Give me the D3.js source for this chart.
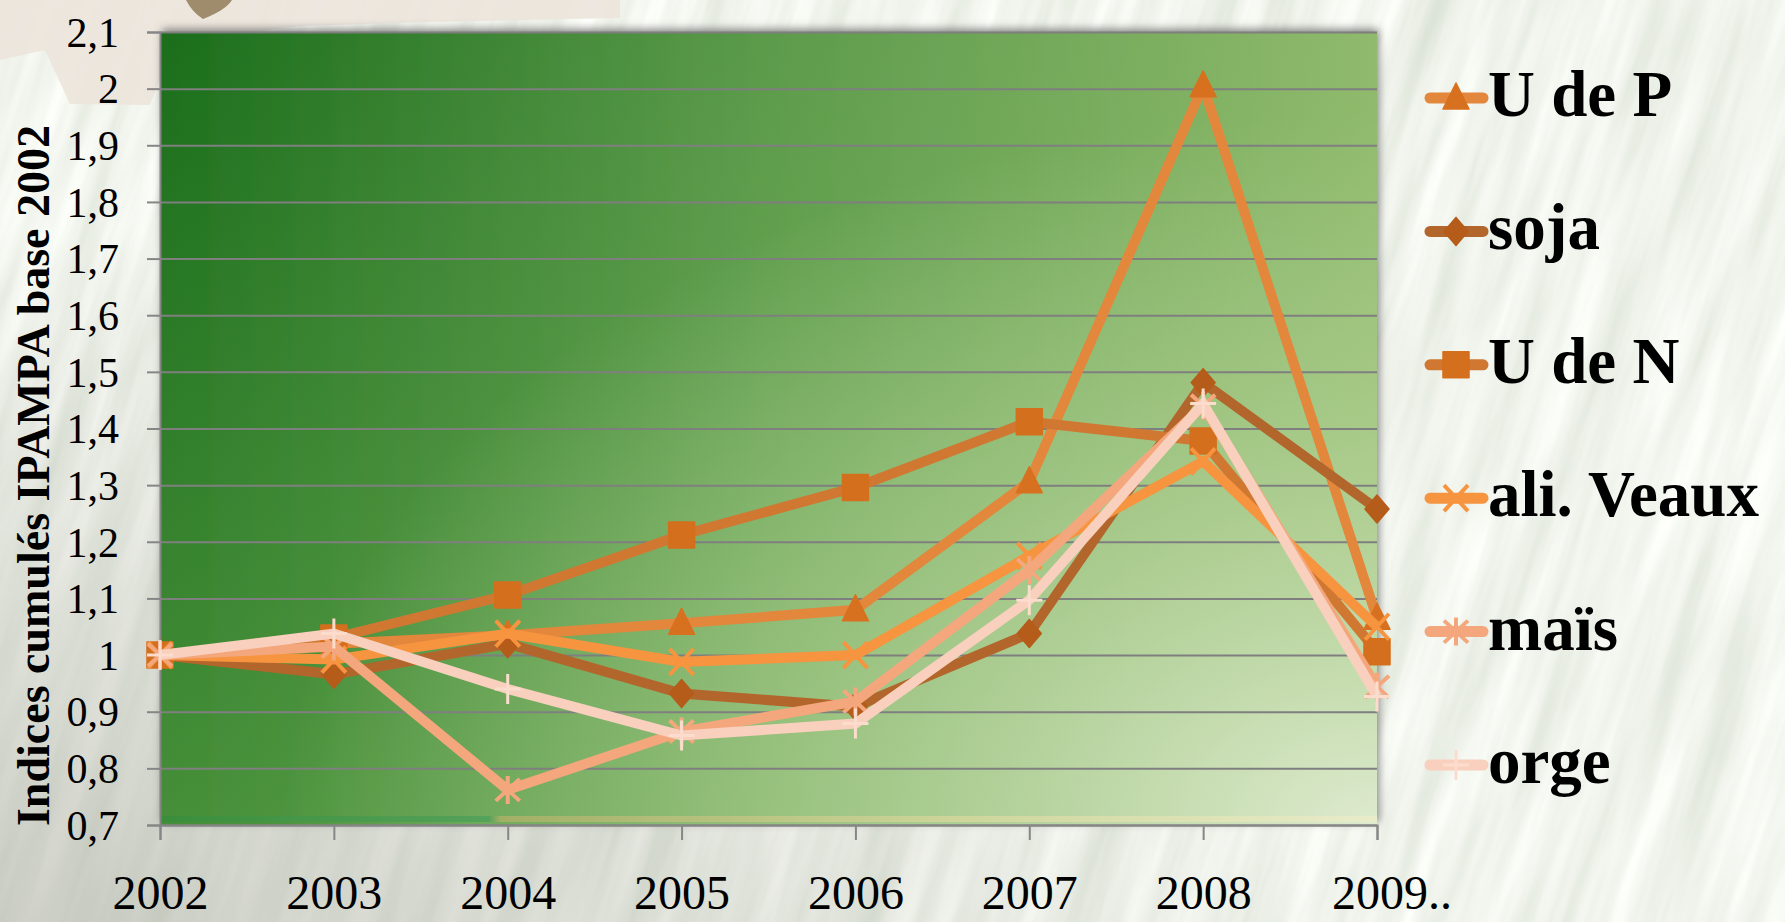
<!DOCTYPE html>
<html>
<head>
<meta charset="utf-8">
<script src="https://cdn.jsdelivr.net/npm/d3@7"></script>
<style>
  html, body { margin: 0; padding: 0; background: #e2eadb; overflow: hidden; }
  svg { display: block; }
</style>
</head>
<body>
<div id="chart"></div>
<script>
// data
const years = ['2002', '2003', '2004', '2005', '2006', '2007', '2008', '2009..'];
const seriesNames = ['U de P', 'soja', 'U de N', 'ali. Veaux', 'maïs', 'orge'];
const uDeP = [1.0, 1.02, 1.035, 1.056, 1.08, 1.306, 2.005, 1.065];
const soja = [1.0, 0.966, 1.02, 0.932, 0.909, 1.038, 1.481, 1.258];
const uDeN = [1.0, 1.03, 1.106, 1.212, 1.296, 1.412, 1.378, 1.006];
const aliVeaux = [1.0, 0.992, 1.038, 0.988, 1.0, 1.175, 1.342, 1.05];
const mais = [1.0, 1.015, 0.762, 0.865, 0.918, 1.15, 1.44, 0.944];
const orge = [1.0, 1.038, 0.94, 0.858, 0.879, 1.097, 1.444, 0.927];
const yTickValues = [0.7, 0.8, 0.9, 1, 1.1, 1.2, 1.3, 1.4, 1.5, 1.6, 1.7, 1.8, 1.9, 2, 2.1];
const yTitle = 'Indices cumulés IPAMPA base 2002';

const seriesValues = [uDeP, soja, uDeN, aliVeaux, mais, orge];
const lineColors = ['#e2873c', '#b3662c', '#d07832', '#f6943f', '#f4a77c', '#f8d0bd'];
const markerColors = ['#d8711f', '#b65c1a', '#d46f1e', '#f6943f', '#f4a77c', '#fbdccd'];
const markerTypes = ['triangle', 'diamond', 'square', 'x', 'asterisk', 'plus'];

const width = 1785, height = 922;
const margin = { top: 32, right: 408, bottom: 97, left: 160 };
const plotW = width - margin.left - margin.right;
const plotH = height - margin.top - margin.bottom;
const font = '"Liberation Serif", "Times New Roman", serif';

const svg = d3.select('#chart').append('svg')
  .attr('width', width)
  .attr('height', height);

const defs = svg.append('defs');

// grass-like texture for the page background
const grass = defs.append('filter').attr('id', 'grass')
  .attr('x', 0).attr('y', 0).attr('width', 1).attr('height', 1);
grass.append('feTurbulence')
  .attr('type', 'fractalNoise')
  .attr('baseFrequency', '0.035 0.003')
  .attr('numOctaves', 4)
  .attr('seed', 7);
grass.append('feColorMatrix')
  .attr('type', 'matrix')
  .attr('values', '0.38 0 0 0 0.69  0.32 0 0 0 0.75  0.38 0 0 0 0.66  0 0 0 0 1');

const dimGrad = defs.append('radialGradient').attr('id', 'dimGrad')
  .attr('cx', 0).attr('cy', 1).attr('r', 0.75);
dimGrad.append('stop').attr('offset', 0).attr('stop-color', '#a9ab9f').attr('stop-opacity', 0.55);
dimGrad.append('stop').attr('offset', 1).attr('stop-color', '#a9ab9f').attr('stop-opacity', 0);

const plotBase = defs.append('linearGradient').attr('id', 'plotBase')
  .attr('x1', 0).attr('y1', 0).attr('x2', 1).attr('y2', 0);
plotBase.append('stop').attr('offset', 0).attr('stop-color', '#1a6d1b');
plotBase.append('stop').attr('offset', 0.5).attr('stop-color', '#5c9b4b');
plotBase.append('stop').attr('offset', 1).attr('stop-color', '#90ba6d');

const plotFade = defs.append('linearGradient').attr('id', 'plotFade')
  .attr('x1', 0).attr('y1', 0).attr('x2', 0).attr('y2', 1);
plotFade.append('stop').attr('offset', 0).attr('stop-color', '#8cc46a').attr('stop-opacity', 0);
plotFade.append('stop').attr('offset', 1).attr('stop-color', '#8cc46a').attr('stop-opacity', 0.38);

const plotGlow = defs.append('radialGradient').attr('id', 'plotGlow')
  .attr('cx', 1).attr('cy', 1).attr('r', 0.9);
plotGlow.append('stop').attr('offset', 0).attr('stop-color', '#e2edd4').attr('stop-opacity', 0.95);
plotGlow.append('stop').attr('offset', 0.55).attr('stop-color', '#c2d9a6').attr('stop-opacity', 0.5);
plotGlow.append('stop').attr('offset', 1).attr('stop-color', '#c2d9a6').attr('stop-opacity', 0);

const floorGrad = defs.append('linearGradient').attr('id', 'floorGrad');
floorGrad.append('stop').attr('offset', 0).attr('stop-color', '#3a8e3a');
floorGrad.append('stop').attr('offset', 0.27).attr('stop-color', '#55a25a');
floorGrad.append('stop').attr('offset', 0.28).attr('stop-color', '#a2b066');
floorGrad.append('stop').attr('offset', 0.65).attr('stop-color', '#cdd59a');
floorGrad.append('stop').attr('offset', 1).attr('stop-color', '#e9ecca');

const shadow = defs.append('filter').attr('id', 'shadow')
  .attr('x', -0.05).attr('y', -0.05).attr('width', 1.1).attr('height', 1.1);
shadow.append('feDropShadow')
  .attr('dx', 2).attr('dy', -3).attr('stdDeviation', 4)
  .attr('flood-color', '#555').attr('flood-opacity', 0.7);

// page background
svg.append('g')
  .attr('transform', `rotate(18 ${width / 2} ${height / 2})`)
  .append('rect')
  .attr('x', -500).attr('y', -600)
  .attr('width', width + 1000).attr('height', height + 1200)
  .attr('filter', 'url(#grass)');
svg.append('rect')
  .attr('width', width).attr('height', height)
  .attr('fill', 'url(#dimGrad)');

svg.append('path')
  .attr('d', 'M0 0 H620 V18 L430 22 L300 26 L175 40 L150 105 L70 104 L45 50 L0 60 Z')
  .attr('fill', '#ece4dc')
  .attr('opacity', 0.9);
svg.append('path')
  .attr('d', 'M186 0 H232 Q226 10 203 19 Q192 12 186 0 Z')
  .attr('fill', '#9f8c6d');

const x = d3.scalePoint()
  .domain(years)
  .range([margin.left, margin.left + plotW]);

const y = d3.scaleLinear()
  .domain([yTickValues[0], yTickValues[yTickValues.length - 1]])
  .range([margin.top + plotH, margin.top]);

const locale = d3.formatLocale({ decimal: ',', thousands: ' ', grouping: [3], currency: ['', ''] });
const fmt = locale.format('~g');

// plot area
svg.append('rect')
  .attr('x', margin.left).attr('y', margin.top)
  .attr('width', plotW).attr('height', plotH)
  .attr('fill', 'url(#plotBase)')
  .attr('filter', 'url(#shadow)');
svg.append('rect')
  .attr('x', margin.left).attr('y', margin.top)
  .attr('width', plotW).attr('height', plotH)
  .attr('fill', 'url(#plotFade)');
svg.append('rect')
  .attr('x', margin.left).attr('y', margin.top)
  .attr('width', plotW).attr('height', plotH)
  .attr('fill', 'url(#plotGlow)');
svg.append('rect')
  .attr('x', margin.left).attr('y', y(0.7) - 9)
  .attr('width', plotW).attr('height', 6)
  .attr('fill', 'url(#floorGrad)');

// grid
svg.append('g')
  .attr('transform', `translate(${margin.left},0)`)
  .call(d3.axisRight(y).tickValues(yTickValues).tickSize(plotW).tickFormat(''))
  .call(g => g.select('.domain').remove())
  .call(g => g.selectAll('.tick line').attr('stroke', '#7f7f7f').attr('stroke-width', 2));

// y axis
svg.append('g')
  .attr('transform', `translate(${margin.left},0)`)
  .call(d3.axisLeft(y).tickValues(yTickValues).tickSize(13).tickPadding(28).tickFormat(fmt))
  .call(g => g.select('.domain').attr('stroke', '#868686').attr('stroke-width', 2))
  .call(g => g.selectAll('.tick line').attr('stroke', '#868686').attr('stroke-width', 2))
  .call(g => g.selectAll('.tick text')
    .attr('fill', '#000')
    .style('font-family', font)
    .style('font-size', '42px')
    .attr('dy', '0.34em'));

// x axis
svg.append('g')
  .attr('transform', `translate(0,${margin.top + plotH})`)
  .call(d3.axisBottom(x).tickSize(15).tickPadding(35))
  .call(g => g.select('.domain').attr('stroke', '#868686').attr('stroke-width', 2))
  .call(g => g.selectAll('.tick line').attr('stroke', '#868686').attr('stroke-width', 2))
  .call(g => g.selectAll('.tick text')
    .attr('fill', '#000')
    .style('font-family', font)
    .style('font-size', '48px')
    .attr('text-anchor', (d, i) => i === years.length - 1 ? 'start' : 'middle')
    .attr('dx', (d, i) => i === years.length - 1 ? '-0.95em' : 0));

// y axis title
svg.append('text')
  .attr('transform', `translate(49,${(y(0.7) + 126) / 2}) rotate(-90)`)
  .attr('text-anchor', 'middle')
  .style('font-family', font)
  .style('font-size', '46px')
  .style('font-weight', 'bold')
  .attr('fill', '#000')
  .text(yTitle);

function markerPath(type) {
  const p = d3.path();
  if (type === 'triangle') {
    p.moveTo(0, -15); p.lineTo(13, 11); p.lineTo(-13, 11); p.closePath();
  } else if (type === 'diamond') {
    p.moveTo(0, -14); p.lineTo(12, 0); p.lineTo(0, 14); p.lineTo(-12, 0); p.closePath();
  } else if (type === 'square') {
    p.rect(-13, -13, 26, 26);
  } else if (type === 'x') {
    p.moveTo(-12, -13); p.lineTo(12, 13); p.moveTo(12, -13); p.lineTo(-12, 13);
  } else if (type === 'asterisk') {
    p.moveTo(-12, -11); p.lineTo(12, 11); p.moveTo(12, -11); p.lineTo(-12, 11);
    p.moveTo(0, -14); p.lineTo(0, 14);
  } else {
    p.moveTo(0, -15); p.lineTo(0, 15); p.moveTo(-13, 0); p.lineTo(13, 0);
  }
  return p.toString();
}

function drawMarker(sel, i) {
  const t = markerTypes[i];
  const filled = t === 'triangle' || t === 'diamond' || t === 'square';
  sel.append('path')
    .attr('d', markerPath(t))
    .attr('fill', filled ? markerColors[i] : 'none')
    .attr('stroke', markerColors[i])
    .attr('stroke-width', filled ? 1.5 : (t === 'plus' ? 3 : 4))
    .attr('stroke-linejoin', 'round');
}

const line = d3.line()
  .x((d, i) => x(years[i]))
  .y(d => y(d));

seriesValues.forEach((vals, si) => {
  const g = svg.append('g').attr('class', 'series');
  g.append('path')
    .datum(vals)
    .attr('d', line)
    .attr('fill', 'none')
    .attr('stroke', lineColors[si])
    .attr('stroke-width', 10);
  g.selectAll('g.pt')
    .data(vals)
    .enter()
    .append('g')
    .attr('class', 'pt')
    .attr('transform', (d, i) => `translate(${x(years[i])},${y(d)})`)
    .each(function () { drawMarker(d3.select(this), si); });
});

// legend
const legendY = d3.scalePoint().domain(seriesNames).range([98, 765]);
const legend = svg.append('g');
seriesNames.forEach((name, si) => {
  const g = legend.append('g')
    .attr('transform', `translate(1426,${legendY(name)})`);
  g.append('line')
    .attr('x1', 4).attr('x2', 57)
    .attr('stroke', lineColors[si])
    .attr('stroke-width', 11)
    .attr('stroke-linecap', 'round');
  const m = g.append('g').attr('transform', 'translate(30,0)');
  drawMarker(m, si);
  g.append('text')
    .attr('x', 62)
    .attr('y', 18)
    .style('font-family', font)
    .style('font-size', '65px')
    .style('font-weight', 'bold')
    .attr('fill', '#000')
    .text(name);
});
</script>
</body>
</html>
